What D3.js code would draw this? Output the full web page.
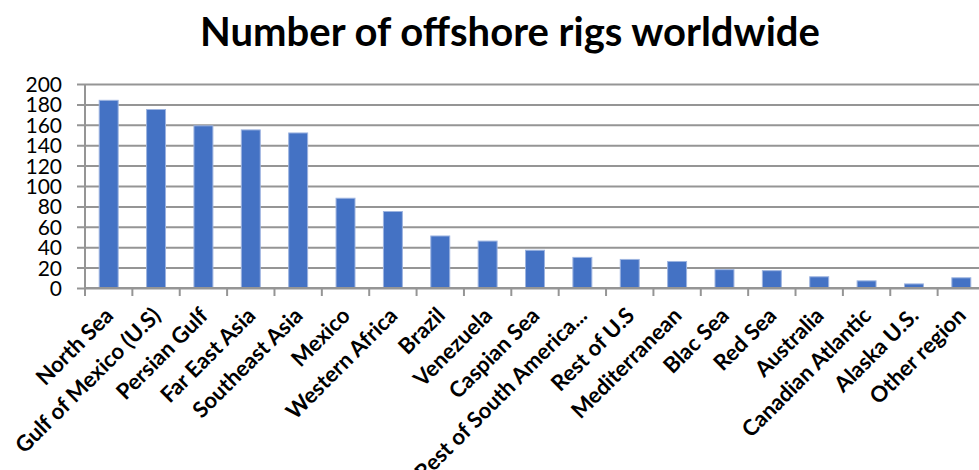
<!DOCTYPE html>
<html>
<head>
<meta charset="utf-8">
<script src="https://cdn.jsdelivr.net/npm/d3@7"></script>
<style>
  body { margin: 0; background: #fff; }
  svg { display: block; }
</style>
</head>
<body>
<div id="container"></div>
<script>
const regions = ['North Sea', 'Gulf of Mexico (U.S)', 'Persian Gulf', 'Far East Asia', 'Southeast Asia',
  'Mexico', 'Western Africa', 'Brazil', 'Venezuela', 'Caspian Sea', 'Rest of South America...',
  'Rest of U.S', 'Mediterranean', 'Blac Sea', 'Red Sea', 'Australia', 'Canadian Atlantic',
  'Alaska U.S.', 'Other region'];
const rigs = [184, 175, 159, 155, 152, 88, 75, 51, 46, 37, 30, 28, 26, 18, 17, 11, 7, 4, 10];
const yTicks = [0, 20, 40, 60, 80, 100, 120, 140, 160, 180, 200];

const WIDTH = 979;
const HEIGHT = 470;
const plotLeft = 85, plotTop = 84, plotBottom = 288, plotRight = 985;

let svg = d3.select('#container').append('svg').attr('width', WIDTH).attr('height', HEIGHT);

svg.append('text')
  .attr('x', 510).attr('y', 46)
  .attr('text-anchor', 'middle')
  .attr('font-family', 'Lato, sans-serif')
  .attr('font-weight', 'bold')
  .attr('font-size', 40)
  .attr('fill', '#000')
  .text('Number of offshore rigs worldwide');

let x = d3.scaleBand().domain(regions).range([plotLeft, plotRight]).paddingInner(0.6).paddingOuter(0.3);
let y = d3.scaleLinear().domain([0, 200]).range([plotBottom, plotTop]);

// gridlines + y labels
let yAxis = d3.axisLeft(y).tickValues(yTicks).tickSize(-(WIDTH - plotLeft)).tickSizeOuter(0).tickPadding(23);
let gy = svg.append('g').attr('transform', `translate(${plotLeft},0)`).call(yAxis);
gy.select('.domain').remove();
gy.selectAll('.tick line').attr('stroke', '#959595').attr('stroke-width', 2).attr('x1', -8);
gy.selectAll('.tick text')
  .attr('font-family', 'Lato, sans-serif').attr('font-size', 21).attr('fill', '#000').attr('dy', '0.36em');

svg.append('line')
  .attr('x1', plotLeft).attr('x2', plotLeft).attr('y1', plotTop).attr('y2', plotBottom)
  .attr('stroke', '#959595').attr('stroke-width', 2);

svg.append('g')
  .selectAll('rect')
  .data(rigs)
  .join('rect')
  .attr('x', (d, i) => x(regions[i]))
  .attr('y', (d) => y(d))
  .attr('width', x.bandwidth())
  .attr('height', (d) => y(0) - y(d))
  .attr('fill', '#4472C4')
  .attr('stroke', '#9db4e0')
  .attr('stroke-width', 1);

// x axis with ticks between categories
let step = x.step();
let gx = svg.append('g').attr('transform', `translate(0,${plotBottom})`);
gx.append('line').attr('x1', plotLeft).attr('x2', WIDTH).attr('stroke', '#959595').attr('stroke-width', 2);
gx.selectAll('.tk')
  .data(d3.range(regions.length + 1))
  .join('line')
  .attr('class', 'tk')
  .attr('x1', (i) => plotLeft + i * step).attr('x2', (i) => plotLeft + i * step)
  .attr('y1', 0).attr('y2', 8)
  .attr('stroke', '#959595').attr('stroke-width', 2);

gx.selectAll('.lbl')
  .data(regions)
  .join('text')
  .attr('class', 'lbl')
  .attr('transform', (d) => `translate(${x(d) + x.bandwidth() / 2 + 6},${29}) rotate(-45)`)
  .attr('text-anchor', 'end')
  .attr('font-family', 'Lato, sans-serif')
  .attr('font-weight', 'bold')
  .attr('font-size', 22)
  .attr('fill', '#000')
  .text((d) => d);
</script>
</body>
</html>
